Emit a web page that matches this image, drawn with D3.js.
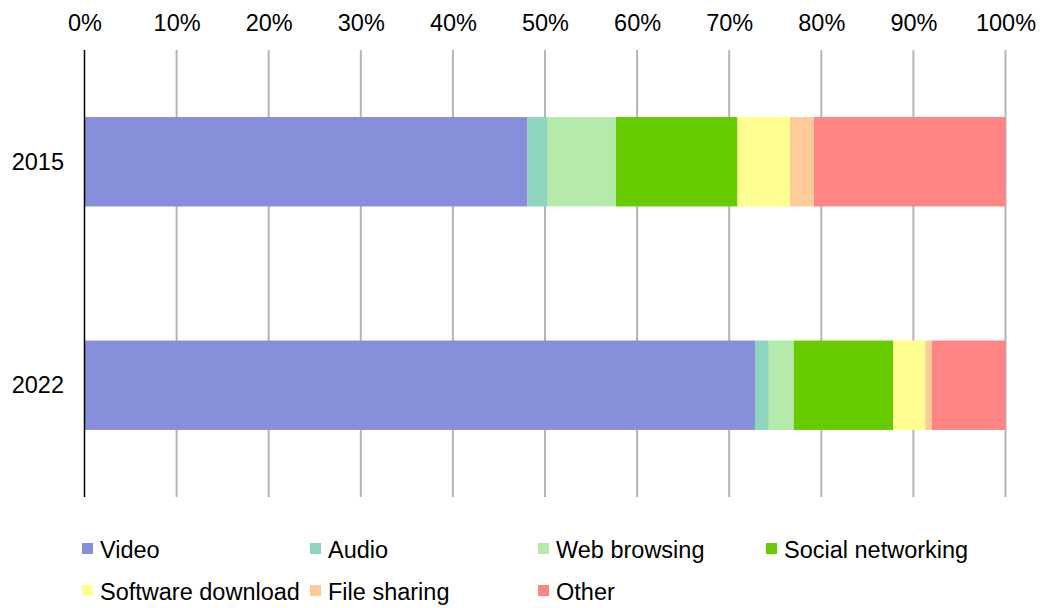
<!DOCTYPE html>
<html>
<head>
<meta charset="utf-8">
<script src="https://cdn.jsdelivr.net/npm/d3@7"></script>
<style>
  body { margin: 0; background: #fff; }
  svg { display: block; font-family: "Liberation Sans", Arial, sans-serif; }
  .tick text, .year, .legend text { font-size: 23.5px; fill: #000; }
</style>
</head>
<body>
<svg width="1045" height="608"></svg>
<script>
var years = ["2015", "2022"];
var categories = ["Video", "Audio", "Web browsing", "Social networking", "Software download", "File sharing", "Other"];
var colors = ["#878fda", "#8fd6c0", "#b5ebaa", "#66cc00", "#ffff91", "#ffcc99", "#ff8585"];
// share of traffic (%) per category, by year
var values2015 = [48.1, 2.2, 7.4, 13.2, 5.7, 2.6, 20.8];
var values2022 = [72.8, 1.5, 2.7, 10.8, 3.5, 0.7, 8.0];
var xTicks = [0, 10, 20, 30, 40, 50, 60, 70, 80, 90, 100];

var rows = [values2015, values2022].map(function(vals, i) {
  var acc = 0;
  return {
    year: years[i],
    segs: vals.map(function(v, j) {
      var s = { cat: categories[j], x0: acc, x1: acc + v, color: colors[j] };
      acc += v;
      return s;
    })
  };
});

var svg = d3.select("svg");
var pArea = [84.5, 50, 1005.5, 497];

var xScale = d3.scaleLinear().domain([0, 100]).range([pArea[0], pArea[2]]);
var yScale = d3.scaleBand().domain(years).range([pArea[1], pArea[3]]).paddingInner(0.6).paddingOuter(0.3);

// gridlines
svg.append("g")
  .selectAll("line")
  .data(xTicks.slice(1))
  .join("line")
    .attr("x1", d => xScale(d)).attr("x2", d => xScale(d))
    .attr("y1", pArea[1]).attr("y2", pArea[3])
    .attr("stroke", "#b5b5b5")
    .attr("stroke-width", 2);

// top axis labels
var xAxis = svg.append("g")
  .attr("transform", "translate(0,31)")
  .call(d3.axisTop(xScale).tickValues(xTicks).tickFormat(d => d + "%").tickSize(0).tickPadding(0));
xAxis.select(".domain").remove();
xAxis.selectAll("text").attr("font-family", null).attr("dy", 0);

// bars
var bars = svg.append("g");
rows.forEach(function(r) {
  bars.selectAll(null)
    .data(r.segs)
    .join("rect")
      .attr("x", d => xScale(d.x0))
      .attr("width", d => xScale(d.x1) - xScale(d.x0))
      .attr("y", yScale(r.year))
      .attr("height", yScale.bandwidth())
      .attr("fill", d => d.color);
});

// y axis line
svg.append("line")
  .attr("x1", pArea[0]).attr("x2", pArea[0])
  .attr("y1", pArea[1]).attr("y2", pArea[3])
  .attr("stroke", "#000")
  .attr("stroke-width", 1.5);

// year labels
svg.append("g")
  .selectAll("text")
  .data(years)
  .join("text")
    .attr("class", "year")
    .attr("x", 64)
    .attr("y", d => yScale(d) + yScale.bandwidth() / 2)
    .attr("dy", "0.35em")
    .attr("text-anchor", "end")
    .text(d => d);

// legend
var legend = svg.append("g").attr("class", "legend");
var item = legend.selectAll("g")
  .data(categories)
  .join("g")
    .attr("transform", (d, i) => `translate(${82 + (i % 4) * 228},${i < 4 ? 558 : 600})`);
item.append("rect")
  .attr("x", 0).attr("y", -15)
  .attr("width", 11).attr("height", 11)
  .attr("fill", (d, i) => colors[i]);
item.append("text")
  .attr("x", 18)
  .text(d => d);
</script>
</body>
</html>
